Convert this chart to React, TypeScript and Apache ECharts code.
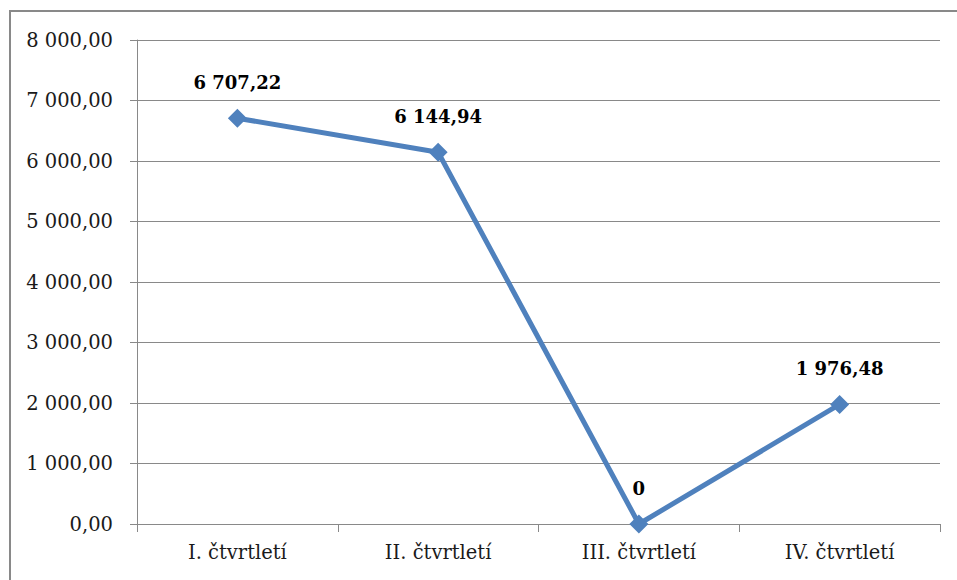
import React, { useEffect, useRef } from "react";
import * as echarts from "echarts";

const categories = ["I. čtvrtletí", "II. čtvrtletí", "III. čtvrtletí", "IV. čtvrtletí"];
const values = [6707.22, 6144.94, 0, 1976.48];
const yMin = 0;
const yMax = 8000;
const yInterval = 1000;

const fmt = (v: number, dec: number) => {
  const s = v.toFixed(dec);
  const [i, d] = s.split(".");
  const ii = i.replace(/\B(?=(\d{3})+(?!\d))/g, " ");
  return d ? ii + "," + d : ii;
};

const FONT = "DejaVu Serif";
const GRAY = "#898989";

export default function App() {
  const ref = useRef<HTMLDivElement>(null);
  useEffect(() => {
    document.body.style.margin = "0";
    const chart = echarts.init(ref.current!, undefined, { renderer: "svg" });
    chart.setOption({
      animation: false,
      backgroundColor: "#ffffff",
      textStyle: { fontFamily: FONT },
      graphic: [
        {
          type: "rect",
          shape: { x: 10, y: 11, width: 980, height: 620 },
          style: { fill: "none", stroke: GRAY, lineWidth: 2 },
          silent: true,
        },
      ],
      grid: { left: 137, right: 17, top: 40, bottom: 56, containLabel: false },
      xAxis: {
        type: "category",
        data: categories,
        boundaryGap: true,
        axisLine: { show: true, lineStyle: { color: GRAY, width: 1 } },
        axisTick: { show: true, length: 8, lineStyle: { color: GRAY } },
        axisLabel: { color: "#1a1a1a", fontSize: 19.5, fontFamily: FONT, margin: 18 },
        splitLine: { show: false },
      },
      yAxis: {
        type: "value",
        min: yMin,
        max: yMax,
        interval: yInterval,
        axisLine: { show: true, lineStyle: { color: GRAY, width: 1 } },
        axisTick: { show: true, length: 7, lineStyle: { color: GRAY } },
        axisLabel: {
          color: "#1a1a1a",
          fontSize: 19.5,
          fontFamily: FONT,
          margin: 24,
          formatter: (v: number) => fmt(v, 2),
        },
        splitLine: { show: true, lineStyle: { color: GRAY, width: 1 } },
      },
      series: [
        {
          type: "line",
          data: values,
          symbol: "diamond",
          symbolSize: 19,
          lineStyle: { color: "#4F81BD", width: 5 },
          itemStyle: { color: "#4F81BD" },
          label: {
            show: true,
            position: "top",
            distance: 17,
            color: "#000000",
            fontWeight: "bold",
            fontSize: 18,
            fontFamily: FONT,
            formatter: (p: any) => (p.value === 0 ? "0" : fmt(p.value, 2)),
          },
        },
      ],
    });
    return () => chart.dispose();
  }, []);
  return <div ref={ref} style={{ width: 957, height: 580 }} />;
}
